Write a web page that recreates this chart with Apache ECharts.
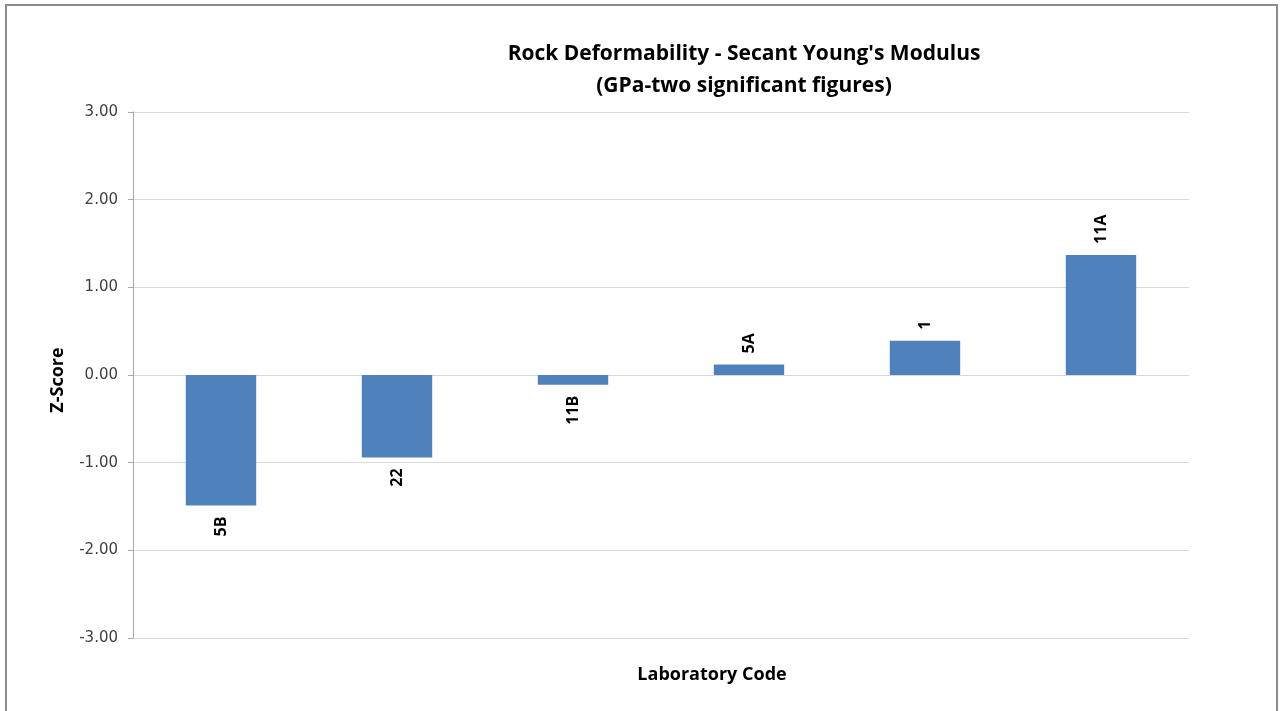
<!DOCTYPE html>
<html>
<head>
<meta charset="utf-8">
<script src="https://cdn.jsdelivr.net/npm/echarts@6/dist/echarts.min.js"></script>
<style>
html,body{margin:0;padding:0;background:#fff;}
#chart{width:1282px;height:711px;}
</style>
</head>
<body>
<div id="chart"></div>
<script>
var categories = ['5B', '22', '11B', '5A', '1', '11A'];
var zScores = [-1.49, -0.94, -0.11, 0.12, 0.39, 1.37];
var yTicks = [-3, -2, -1, 0, 1, 2, 3];

var FONT = "'Open Sans', sans-serif";
var barData = zScores.map(function (v, i) {
  var neg = v < 0;
  return {
    value: v,
    label: {
      position: neg ? 'bottom' : 'top',
      align: neg ? 'right' : 'left',
      verticalAlign: 'middle'
    }
  };
});

var chart = echarts.init(document.getElementById('chart'));
chart.setOption({
  backgroundColor: '#fff',
  animation: false,
  graphic: [{
    type: 'rect',
    shape: { x: 6, y: 5, width: 1271, height: 730 },
    style: { fill: 'none', stroke: '#8c8c8c', lineWidth: 2 },
    silent: true
  }],
  title: {
    text: "Rock Deformability - Secant Young's Modulus\n(GPa-two significant figures)",
    left: 739, top: 33, textAlign: 'center',
    textStyle: { fontFamily: FONT, fontSize: 21, fontWeight: 'bold', color: '#000', lineHeight: 32 }
  },
  grid: { left: 133, right: 93, top: 112, bottom: 73, containLabel: false },
  xAxis: {
    type: 'category',
    data: categories,
    position: 'bottom',
    name: 'Laboratory Code',
    nameLocation: 'middle',
    nameGap: 28,
    nameTextStyle: { fontFamily: FONT, fontSize: 18, fontWeight: 'bold', color: '#000', padding: [0, 0, 0, 102] },
    axisLine: { show: false, onZero: false },
    axisTick: { show: false },
    axisLabel: { show: false },
    splitLine: { show: false }
  },
  yAxis: {
    type: 'value',
    min: yTicks[0], max: yTicks[yTicks.length - 1], interval: 1,
    name: 'Z-Score',
    nameLocation: 'middle',
    nameGap: 66,
    nameTextStyle: { fontFamily: FONT, fontSize: 18, fontWeight: 'bold', color: '#000', padding: [0, 0, 0, -10] },
    axisLine: { show: true, lineStyle: { color: '#a6a6a6', width: 1 } },
    axisTick: { show: true, inside: false, length: 5, lineStyle: { color: '#a6a6a6' } },
    axisLabel: {
      fontFamily: "'DejaVu Sans', sans-serif", fontSize: 15, color: '#404040', margin: 15,
      formatter: function (v) { return v.toFixed(2); }
    },
    splitLine: { show: true, lineStyle: { color: '#d9d9d9', width: 1 } }
  },
  series: [{
    type: 'bar',
    data: barData,
    barWidth: '40%',
    itemStyle: { color: '#4f81bd' },
    label: {
      show: true,
      rotate: 90,
      distance: 11,
      formatter: function (p) { return categories[p.dataIndex]; },
      fontFamily: FONT, fontSize: 16, fontWeight: 'bold', color: '#000'
    }
  }]
});
</script>
</body>
</html>
